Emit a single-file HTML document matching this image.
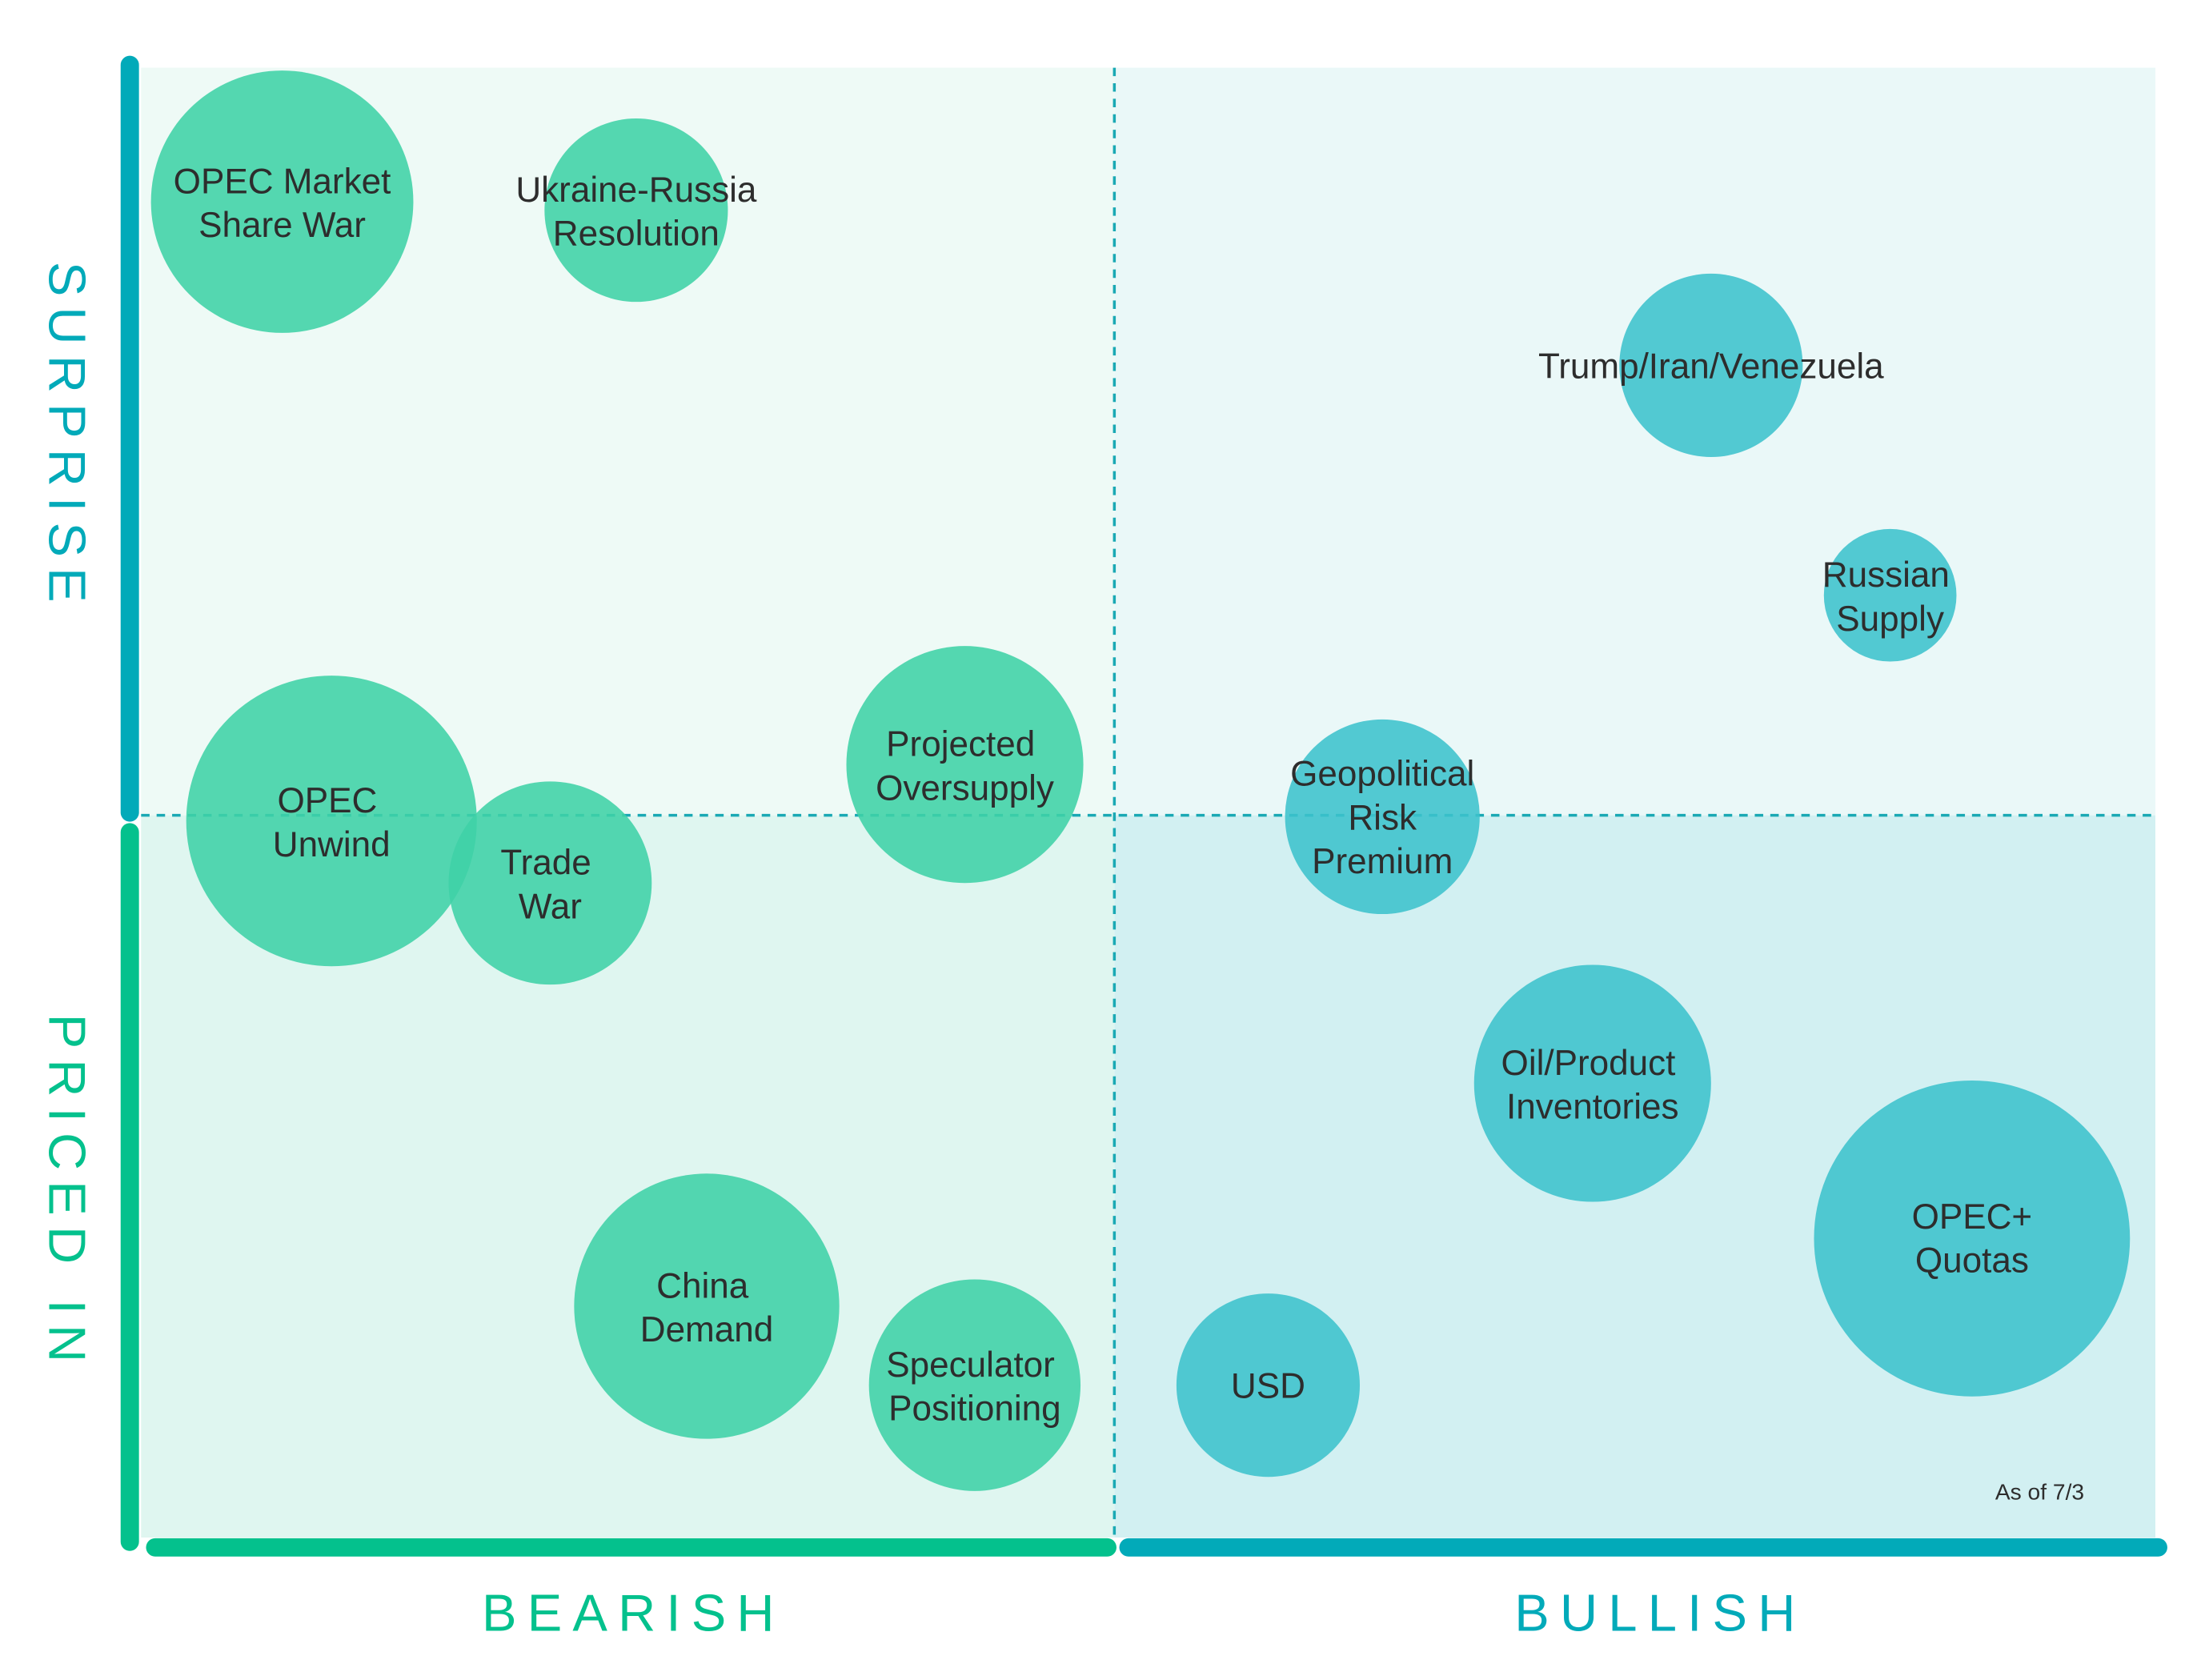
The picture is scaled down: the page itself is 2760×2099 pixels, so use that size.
<!DOCTYPE html>
<html><head><meta charset="utf-8"><style>
html,body{margin:0;padding:0;background:#fff}
svg{display:block}
text{font-family:"Liberation Sans",sans-serif}
</style></head><body>
<svg width="2760" height="2099" viewBox="0 0 1566 1191" xmlns="http://www.w3.org/2000/svg">
<rect x="100" y="48" width="690" height="530" fill="#eefaf6"/>
<rect x="790" y="48" width="738" height="530" fill="#eaf8f8"/>
<rect x="100" y="578" width="690" height="512" fill="#dff6f0"/>
<rect x="790" y="578" width="738" height="512" fill="#d2f0f2"/>
<line x1="790" y1="48" x2="790" y2="1090" stroke="#1aa9b4" stroke-width="2" stroke-dasharray="6,5"/>
<line x1="100" y1="578" x2="1528" y2="578" stroke="#1aa9b4" stroke-width="2" stroke-dasharray="6,5"/>
<line x1="92" y1="46" x2="92" y2="576" stroke="#02aab9" stroke-width="13" stroke-linecap="round"/>
<line x1="92" y1="590" x2="92" y2="1093" stroke="#04c18d" stroke-width="13" stroke-linecap="round"/>
<line x1="110" y1="1097" x2="785" y2="1097" stroke="#04c18d" stroke-width="13" stroke-linecap="round"/>
<line x1="800" y1="1097" x2="1530" y2="1097" stroke="#02aab9" stroke-width="13" stroke-linecap="round"/>
<g fill="#3fd1a6" fill-opacity="0.88">
<circle cx="200" cy="143" r="93"/>
<circle cx="451" cy="149" r="65"/>
<circle cx="235" cy="582" r="103"/>
<circle cx="390" cy="626" r="72"/>
<circle cx="684" cy="542" r="84"/>
<circle cx="501" cy="926" r="94"/>
<circle cx="691" cy="982" r="75"/>
</g>
<g fill="#3cc1cc" fill-opacity="0.88">
<circle cx="1213" cy="259" r="65"/>
<circle cx="1340" cy="422" r="47"/>
<circle cx="980" cy="579" r="69"/>
<circle cx="1129" cy="768" r="84"/>
<circle cx="1398" cy="878" r="112"/>
<circle cx="899" cy="982" r="65"/>
</g>
<g fill="#2d2d2d" font-size="25" text-anchor="middle">
<text x="200" y="137">OPEC Market</text><text x="200" y="168">Share War</text>
<text x="451" y="143">Ukraine-Russia</text><text x="451" y="174">Resolution</text>
<text x="1213" y="268">Trump/Iran/Venezuela</text>
<text x="1337" y="416">Russian</text><text x="1340" y="447">Supply</text>
<text x="232" y="576">OPEC</text><text x="235" y="607">Unwind</text>
<text x="387" y="620">Trade</text><text x="390" y="651">War</text>
<text x="681" y="536">Projected</text><text x="684" y="567">Oversupply</text>
<text x="980" y="557">Geopolitical</text><text x="980" y="588">Risk</text><text x="980" y="619">Premium</text>
<text x="1126" y="762">Oil/Product</text><text x="1129" y="793">Inventories</text>
<text x="1398" y="871">OPEC+</text><text x="1398" y="902">Quotas</text>
<text x="498" y="920">China</text><text x="501" y="951">Demand</text>
<text x="688" y="976">Speculator</text><text x="691" y="1007">Positioning</text>
<text x="899" y="991">USD</text>
<text x="1446" y="1063" font-size="16">As of 7/3</text>
</g>
<g font-size="37" letter-spacing="7.5" text-anchor="middle">
<text x="449" y="1156" fill="#04c18d">BEARISH</text>
<text x="1177" y="1156" fill="#02aab9">BULLISH</text>
<text transform="translate(35,310) rotate(90)" fill="#02aab9">SURPRISE</text>
<text transform="translate(35,846) rotate(90)" fill="#04c18d">PRICED IN</text>
</g>
</svg>
</body></html>
